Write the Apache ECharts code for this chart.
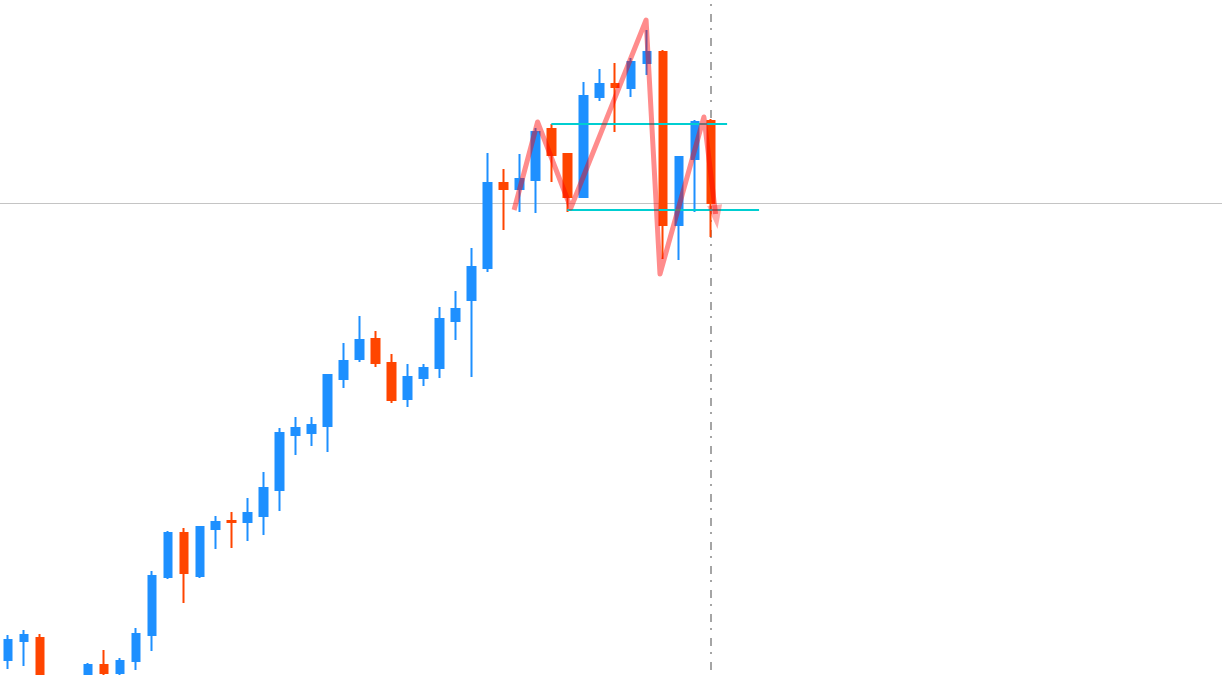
<!DOCTYPE html>
<html>
<head>
<meta charset="utf-8">
<script src="https://cdn.jsdelivr.net/npm/echarts@6/dist/echarts.min.js"></script>
<style>html,body{margin:0;padding:0;background:#fff}#chart{width:1222px;height:675px}</style>
</head>
<body>
<div id="chart"></div>
<script>
// ---- data (price units) ----
const opens  = [15,34,37,-20,-38,-8,10,2,14,40,98,142,99,146,154,153,159,185,240,242,249,296,316,336,312,276,297,307,354,375,407,492,486,495,546,521,478,578,591,587,612,623,450,516,554];
const closes = [35,40,-20,-40,-10,10,2,14,41,99,142,102,148,153,153,162,187,242,247,250,300,314,335,312,275,298,307,356,366,408,492,486,496,543,520,478,579,591,588,613,623,450,518,553,472];
const lows   = [6,9,-30,-50,-45,-12,-1,0,5,24,96,72,97,126,127,134,140,164,220,229,223,287,313,308,272,268,289,297,335,298,403,445,463,462,493,463,477,574,543,578,600,416,415,463,438];
const highs  = [40,45,41,-8,-4,12,25,17,47,104,144,147,149,159,163,177,203,247,258,258,300,332,359,344,321,311,311,368,384,427,522,506,521,547,551,521,593,606,612,617,645,625,519,555,556];
const totalSlots = 76;
const categories = Array.from({length: totalSlots}, (_, i) => String(i + 1));
const lastClose = 472;
const resistance = 551;
const support = 465;
const zigzag = [[31.67,465],[33.14,553],[35.22,467],[39.93,655],[40.8,401],[43.55,558],[44.28,461]];
const arrowHead = [44.31, 458];

const candleData = opens.map((o, i) => [o, closes[i], lows[i], highs[i]]);
const lastIdx = opens.length - 1;

const pink = 'rgba(255,0,0,0.45)';
const chart = echarts.init(document.getElementById('chart'));
chart.setOption({
  animation: false,
  backgroundColor: '#ffffff',
  grid: {left: -1.5, right: 7.5, top: 0, bottom: 0, containLabel: false},
  xAxis: [
    {type: 'category', data: categories, show: false, boundaryGap: true},
    {type: 'value', min: -0.5, max: totalSlots - 0.5, show: false}
  ],
  yAxis: [{type: 'value', min: 0, max: 675, show: false, splitLine: {show: false}}],
  series: [
    {
      type: 'lines', coordinateSystem: 'cartesian2d', xAxisIndex: 1, yAxisIndex: 0,
      z: 1, clip: false, silent: true, symbol: 'none',
      lineStyle: {color: '#c4c4c4', width: 1, opacity: 1},
      data: [{coords: [[-1, lastClose], [totalSlots + 1, lastClose]]}]
    },
    {
      type: 'lines', coordinateSystem: 'cartesian2d', xAxisIndex: 1, yAxisIndex: 0,
      z: 1, silent: true, symbol: 'none',
      lineStyle: {color: '#888888', width: 1.5, type: [8, 8, 2, 6], opacity: 1},
      data: [{coords: [[lastIdx, 5], [lastIdx, 676]]}]
    },
    {
      type: 'candlestick', xAxisIndex: 0, yAxisIndex: 0, z: 2,
      barWidth: 8,
      itemStyle: {
        color: '#1E90FF', color0: '#FF4500',
        borderColor: '#1E90FF', borderColor0: '#FF4500',
        borderWidth: 2
      },
      data: candleData
    },
    {
      type: 'lines', coordinateSystem: 'cartesian2d', xAxisIndex: 1, yAxisIndex: 0,
      z: 3, silent: true, symbol: 'none',
      lineStyle: {color: '#00CED1', width: 2, opacity: 1},
      data: [
        {coords: [[34, resistance], [45, resistance]]},
        {coords: [[35, support], [47, support]]}
      ]
    },
    {
      type: 'lines', coordinateSystem: 'cartesian2d', xAxisIndex: 1, yAxisIndex: 0,
      z: 4, silent: true, polyline: true, symbol: 'none',
      lineStyle: {color: pink, width: 5, opacity: 1, join: 'round', cap: 'butt'},
      data: [{coords: zigzag}]
    },
    {
      type: 'scatter', xAxisIndex: 1, yAxisIndex: 0, z: 4, silent: true,
      symbol: 'triangle', symbolSize: [15, 24], symbolRotate: 187,
      itemStyle: {color: 'rgba(255,0,0,0.4)'},
      data: [arrowHead]
    }
  ]
});
</script>
</body>
</html>
